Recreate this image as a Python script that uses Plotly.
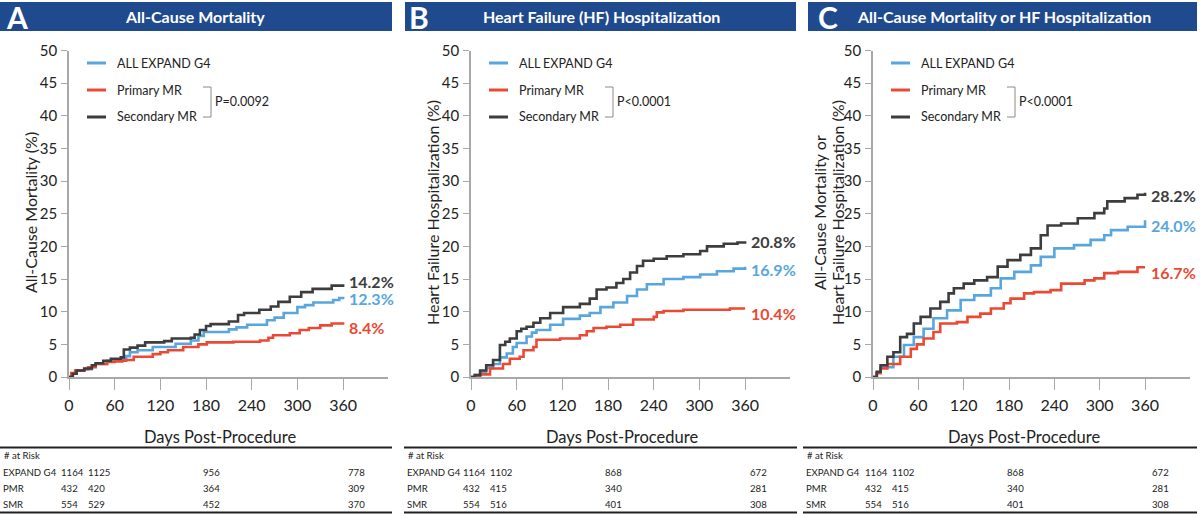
import plotly.graph_objects as go

W, H = 1200, 514

# ---------------- data ----------------
series_names = ["ALL EXPAND G4", "Primary MR", "Secondary MR"]
series_colors = ["#58a6dd", "#ea4a33", "#3d3d3d"]

# Panel A: All-Cause Mortality
A_all_t = [0, 5, 10, 20, 30, 35, 50, 70, 75, 80, 90, 110, 140, 160, 170, 177, 210, 220, 234, 260, 270, 282, 300, 310, 321, 347, 355, 360]
A_all_v = [0, 0.5, 1.0, 1.2, 1.6, 2.0, 2.5, 2.8, 3.2, 3.8, 4.1, 4.6, 5.1, 5.6, 6.3, 6.9, 7.3, 7.6, 8.0, 8.7, 9.1, 9.8, 10.7, 11.0, 11.4, 11.8, 12.1, 12.3]
A_pmr_t = [0, 3, 8, 20, 25, 35, 50, 60, 70, 75, 85, 110, 120, 130, 150, 170, 181, 216, 251, 262, 268, 290, 303, 315, 330, 345, 360]
A_pmr_v = [0, 0.6, 1.0, 1.2, 1.5, 2.0, 2.3, 2.4, 2.5, 2.6, 3.1, 3.5, 3.8, 4.1, 4.6, 5.0, 5.3, 5.4, 5.6, 6.0, 6.4, 6.7, 7.2, 7.5, 7.9, 8.2, 8.4]
A_smr_t = [0, 5, 10, 20, 30, 35, 45, 55, 68, 72, 80, 90, 100, 125, 135, 160, 165, 172, 180, 186, 210, 222, 230, 250, 265, 275, 290, 305, 320, 345, 360]
A_smr_v = [0, 0.5, 1.0, 1.3, 1.8, 2.1, 2.5, 2.8, 3.0, 4.2, 4.5, 4.8, 5.3, 5.5, 5.9, 6.0, 6.5, 7.2, 7.8, 8.1, 8.5, 9.5, 9.8, 10.3, 10.8, 11.5, 12.3, 13.0, 13.5, 14.0, 14.2]

# Panel B: HF Hospitalization
B_all_t = [0, 5, 12, 20, 29, 38, 47, 55, 60, 73, 80, 86, 104, 121, 143, 156, 170, 187, 205, 218, 231, 253, 279, 301, 323, 345, 360]
B_all_v = [0, 0.3, 0.8, 1.4, 2.0, 3.0, 3.6, 4.6, 5.2, 6.2, 6.8, 7.2, 8.0, 8.9, 9.4, 9.8, 10.7, 11.4, 12.4, 13.4, 14.2, 15.0, 15.3, 15.7, 16.2, 16.6, 16.9]
B_pmr_t = [0, 10, 12, 25, 42, 51, 64, 69, 82, 86, 117, 143, 152, 161, 178, 196, 213, 240, 244, 253, 279, 340, 360]
B_pmr_v = [0, 0.2, 0.4, 1.3, 2.0, 2.8, 3.1, 4.1, 4.6, 5.7, 5.9, 6.4, 7.0, 7.5, 7.7, 8.0, 8.8, 9.2, 9.9, 10.1, 10.3, 10.5, 10.5]
B_smr_t = [0, 5, 12, 20, 29, 38, 45, 51, 60, 66, 73, 82, 91, 104, 121, 143, 156, 165, 178, 191, 200, 209, 218, 226, 240, 257, 279, 301, 310, 332, 350, 360]
B_smr_v = [0, 0.3, 1.0, 1.8, 2.6, 4.9, 5.4, 5.9, 7.0, 7.4, 7.7, 8.3, 9.0, 9.8, 10.7, 11.2, 12.0, 13.4, 13.7, 14.4, 15.0, 16.0, 17.0, 17.8, 18.1, 18.5, 18.8, 19.3, 20.0, 20.4, 20.6, 20.8]

# Panel C: All-Cause Mortality or HF Hospitalization
C_all_t = [0, 5, 10, 27, 41, 54, 67, 80, 98, 116, 134, 156, 169, 187, 209, 222, 240, 266, 288, 306, 315, 337, 360]
C_all_v = [0, 0.7, 1.5, 3.1, 4.9, 6.1, 7.4, 9.0, 10.2, 11.8, 12.5, 13.6, 15.1, 16.1, 17.1, 18.4, 19.7, 20.2, 21.0, 21.7, 22.5, 23.0, 24.0]
C_pmr_t = [0, 5, 10, 19, 36, 50, 58, 67, 80, 89, 111, 125, 142, 156, 173, 182, 200, 213, 235, 249, 280, 293, 306, 324, 350, 360]
C_pmr_v = [0, 0.6, 1.3, 2.0, 3.1, 4.3, 5.0, 5.9, 6.9, 8.2, 8.4, 9.2, 9.7, 10.5, 11.3, 12.0, 12.8, 13.0, 13.3, 14.3, 14.8, 15.1, 15.9, 16.1, 16.8, 16.8]
C_smr_t = [0, 5, 10, 19, 27, 36, 45, 54, 63, 76, 89, 100, 107, 120, 134, 151, 165, 178, 195, 209, 222, 231, 249, 271, 293, 306, 310, 333, 350, 360]
C_smr_v = [0, 0.8, 1.8, 3.1, 3.8, 6.1, 6.6, 8.2, 9.2, 10.5, 11.5, 12.8, 13.6, 14.3, 14.8, 15.3, 16.9, 17.9, 18.7, 19.7, 21.7, 23.2, 23.5, 24.3, 25.1, 25.8, 26.9, 27.4, 27.9, 28.2]

panel_letters = ["A", "B", "C"]
panel_titles = ["All-Cause Mortality", "Heart Failure (HF) Hospitalization", "All-Cause Mortality or HF Hospitalization"]
y_titles = [["All-Cause Mortality (%)"], ["Heart Failure Hospitalization (%)"],
            ["All-Cause Mortality or", "Heart Failure Hospitalization (%)"]]
p_values = ["P=0.0092", "P<0.0001", "P<0.0001"]
end_labels = [["12.3%", "8.4%", "14.2%"], ["16.9%", "10.4%", "20.8%"], ["24.0%", "16.7%", "28.2%"]]

x_ticks = [0, 60, 120, 180, 240, 300, 360]
y_ticks = [0, 5, 10, 15, 20, 25, 30, 35, 40, 45, 50]

risk_row_labels = ["EXPAND G4", "PMR", "SMR"]
risk_A = [["1164", "1125", "956", "778"], ["432", "420", "364", "309"], ["554", "529", "452", "370"]]
risk_B = [["1164", "1102", "868", "672"], ["432", "415", "340", "281"], ["554", "516", "401", "308"]]
risk_C = [["1164", "1102", "868", "672"], ["432", "415", "340", "281"], ["554", "516", "401", "308"]]

panels = [
    [(A_all_t, A_all_v), (A_pmr_t, A_pmr_v), (A_smr_t, A_smr_v)],
    [(B_all_t, B_all_v), (B_pmr_t, B_pmr_v), (B_smr_t, B_smr_v)],
    [(C_all_t, C_all_v), (C_pmr_t, C_pmr_v), (C_smr_t, C_smr_v)],
]
risks = [risk_A, risk_B, risk_C]

# ---------------- layout geometry (pixels) ----------------
FONT = "Lato"
TABLE_FONT = "Lato"
TABLE_SIZE = 9.6
TEXT = "#222222"
axis_x0 = [69, 471, 873]
axis_x1 = [388, 790, 1190]
x_range_end = [419, 419, 419.5]
y0_px, y50_px = 377, 50.5
header = [(0, 392), (405, 796), (808, 1197)]
table_span = [(0, 392), (404, 797), (803, 1197)]
table_label_x = [1, 405, 804]
header_title_cx = [195, 601, 1004]
letter_cx = [17, 419, 828]


def fx(p):
    return p / W


def fy(p):
    return 1 - p / H


def note(x, y, text, size, color=TEXT, xanchor="center", **kw):
    d = dict(x=x, y=y, text=text, showarrow=False, xanchor=xanchor, yanchor="middle",
             font=dict(family=kw.pop("family", FONT), size=size, color=color))
    d.setdefault("xref", "paper")
    d.setdefault("yref", "paper")
    d.update(kw)
    return d


fig = go.Figure()
annotations = []
shapes = []

label_shift = [[-2, -5, 3], [-3, -5, 0], [-5, -5, -3]]

for i in range(3):
    xa = "x" if i == 0 else f"x{i+1}"
    ya = "y" if i == 0 else f"y{i+1}"
    for j, (t, v) in enumerate(panels[i]):
        fig.add_trace(go.Scatter(
            x=t, y=v, mode="lines", line=dict(color=series_colors[j], width=2.6, shape="hv"),
            name=series_names[j], showlegend=False, xaxis=xa, yaxis=ya, cliponaxis=False,
            hoverinfo="skip"))
        annotations.append(note(t[-1], v[-1], f"<b>{end_labels[i][j]}</b>", 16,
                                color=series_colors[j], xanchor="left", xref=xa, yref=ya,
                                xshift=4, yshift=label_shift[i][j]))

    ax_key = "xaxis" if i == 0 else f"xaxis{i+1}"
    ay_key = "yaxis" if i == 0 else f"yaxis{i+1}"
    fig.update_layout(**{
        ax_key: dict(domain=[fx(axis_x0[i]), fx(axis_x1[i])], range=[0, x_range_end[i]],
                     tickvals=x_ticks, showline=True, linecolor="#a8a8a8", linewidth=1.5,
                     ticks="outside", ticklen=11, tickwidth=1.3, tickcolor="#a8a8a8",
                     showgrid=False, zeroline=False, anchor=ya, automargin=False,
                     tickfont=dict(family=FONT, size=16, color=TEXT), ticklabelstandoff=2),
        ay_key: dict(domain=[fy(y0_px), fy(y50_px)], range=[0, 50], tickvals=y_ticks,
                     showline=True, linecolor="#a8a8a8", linewidth=1.5,
                     ticks="outside", ticklen=6, tickwidth=1.3, tickcolor="#a8a8a8",
                     showgrid=False, zeroline=False, anchor=xa, automargin=False,
                     tickfont=dict(family=FONT, size=15, color=TEXT), ticklabelstandoff=1),
    })

    # header bar
    shapes.append(dict(type="rect", xref="paper", yref="paper", x0=fx(header[i][0]), x1=fx(header[i][1]),
                       y0=fy(31), y1=fy(2), fillcolor="#1f4a8e", line=dict(width=0), layer="below"))
    annotations.append(note(fx(letter_cx[i]), fy(17), f"<b>{panel_letters[i]}</b>", 30, color="white"))
    annotations.append(note(fx(header_title_cx[i]), fy(17), f"<b>{panel_titles[i]}</b>", 16, color="white"))

    # y-axis title (one annotation per line)
    lines = y_titles[i]
    offs = [39] if len(lines) == 1 else [54, 36]
    for k, ln in enumerate(lines):
        annotations.append(note(fx(axis_x0[i] - offs[k]), fy(213), ln, 16, textangle=-90))

    # legend (line swatches + text)
    lx0 = axis_x0[i] + 18
    for j in range(3):
        ly = 63 + 27 * j
        shapes.append(dict(type="line", xref="paper", yref="paper", x0=fx(lx0), x1=fx(lx0 + 19),
                           y0=fy(ly), y1=fy(ly), line=dict(color=series_colors[j], width=3)))
        annotations.append(note(fx(lx0 + 28), fy(ly), series_names[j], 12.5, xanchor="left"))
    # bracket + p value
    bx = axis_x0[i] + 142
    shapes.append(dict(type="path", xref="paper", yref="paper",
                       path=f"M {fx(bx-8)},{fy(87)} L {fx(bx)},{fy(87)} L {fx(bx)},{fy(117)} L {fx(bx-8)},{fy(117)}",
                       line=dict(color="#8a8a8a", width=1)))
    annotations.append(note(fx(bx + 2), fy(102), p_values[i], 12.5, xanchor="left"))

    # x-axis title
    annotations.append(note(fx(axis_x0[i] + 151), fy(437), "Days Post-Procedure", 16.5))
    # table rules
    tx0, tx1 = table_span[i]
    shapes.append(dict(type="line", xref="paper", yref="paper", x0=fx(tx0), x1=fx(tx1),
                       y0=fy(447.5), y1=fy(447.5), line=dict(color="#222", width=1.8)))
    shapes.append(dict(type="line", xref="paper", yref="paper", x0=fx(tx0), x1=fx(tx1),
                       y0=fy(512.5), y1=fy(512.5), line=dict(color="#222", width=1.8)))
    lx = table_label_x[i]
    annotations.append(note(fx(lx + 1), fy(455), "# at Risk", TABLE_SIZE, xanchor="left", family=TABLE_FONT))
    col_off = [-10, 17, 132, 277]
    for r in range(3):
        ry = 472 + 16.2 * r
        annotations.append(note(fx(lx), fy(ry), risk_row_labels[r], TABLE_SIZE, xanchor="left",
                                family=TABLE_FONT))
        for c in range(4):
            annotations.append(note(fx(axis_x0[i] + col_off[c]), fy(ry), risks[i][r][c], TABLE_SIZE,
                                    xanchor="left", family=TABLE_FONT))

fig.update_layout(width=W, height=H, margin=dict(l=0, r=0, t=0, b=0, pad=0, autoexpand=False),
                  paper_bgcolor="white", plot_bgcolor="white",
                  annotations=annotations, shapes=shapes, showlegend=False)

fig.write_html("out.html", config={"displayModeBar": False},
               post_script="document.body.style.margin='0';document.body.style.overflow='hidden';")
